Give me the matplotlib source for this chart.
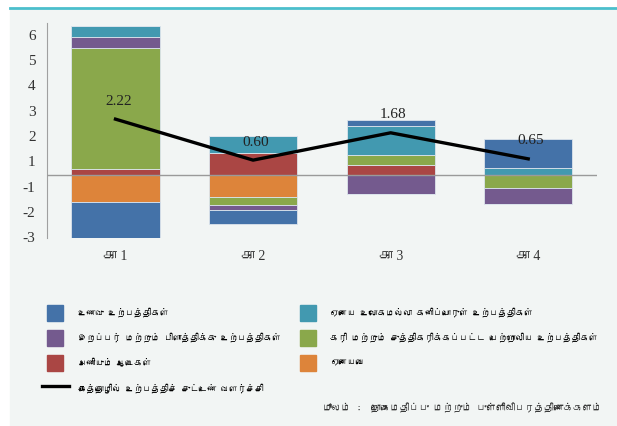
import matplotlib
matplotlib.use("Agg")
import matplotlib.pyplot as plt
from matplotlib import font_manager
from matplotlib.patches import Rectangle, Patch
from matplotlib.lines import Line2D
from matplotlib.legend_handler import HandlerPatch
import numpy as np

# ---------------- data ----------------
categories = ['கா 1', 'கா 2', 'கா 3', 'கா 4']
food = [-1.42, -0.53, 0.24, 1.13]              # blue
other_minerals = [0.42, 0.68, 1.15, 0.29]      # teal
rubber = [0.43, -0.19, -0.74, -0.66]           # purple
coal_petroleum = [4.79, -0.34, 0.38, -0.49]    # green
apparel = [0.25, 0.87, 0.42, 0.0]              # red
others = [-1.07, -0.85, 0.0, 0.0]              # orange
growth = [2.22, 0.60, 1.68, 0.65]
growth_labels = ['2.22', '0.60', '1.68', '0.65']
ytick_labels = ['6', '5', '4', '3', '2', '1', '-1', '-2', '-3']
ytick_pos = [5.55, 4.55, 3.55, 2.55, 1.55, 0.55, -0.45, -1.45, -2.45]

names = {
    'food': 'உணவு உற்பத்திகள்',
    'minerals': 'ஏனைய உலோகமல்லா கனிப்பொருள் உற்பத்திகள்',
    'rubber': 'இறப்பர் மற்றும் பிளாத்திக்கு உற்பத்திகள்',
    'coal': 'கரி மற்றும் சுத்திகரிக்கப்பட்ட பெற்றோலிய உற்பத்திகள்',
    'apparel': 'அணியும் ஆடைகள்',
    'others': 'ஏனையவை',
    'line': 'கைத்தொழில் உற்பத்திச் சுட்டெண் வளர்ச்சி',
}
source_label = 'மூலம்'
source_text = ' :  தொகைமதிப்பு மற்றும் புள்ளிவிபரத்திணைக்களம்'

# ---------------- fonts ----------------
def find_font(ch):
    from matplotlib.ft2font import FT2Font
    for f in font_manager.fontManager.ttflist:
        try:
            if ord(ch) in FT2Font(f.fname).get_charmap():
                return f.name
        except Exception:
            pass
    return None

tamil = find_font('க')
sans = ([tamil] if tamil else []) + ['DejaVu Sans']
serif = ['Liberation Serif'] + ([tamil] if tamil else []) + ['DejaVu Sans']

colors = {
    'food': '#4472a8', 'minerals': '#4299b0', 'rubber': '#745a8e',
    'coal': '#8aa84b', 'apparel': '#aa4644', 'others': '#dd843a',
}

fig = plt.figure(figsize=(6.17, 4.26), dpi=100)
fig.patch.set_facecolor('white')
W, H = 617, 426
fig.patches.append(Rectangle((10 / W, 0), 1 - 10 / W, (H - 9) / H,
                             transform=fig.transFigure, color='#f2f5f4', zorder=-5))
fig.lines.append(Line2D([10 / W, 1], [1 - 8 / H, 1 - 8 / H], transform=fig.transFigure,
                        color='#4bbfcc', lw=2, zorder=-4))

renderer = fig.canvas.get_renderer()


def fit_size(text, family, target_px, base=10.0, lo=5.0, hi=9.0):
    t = fig.text(0, 0, text, fontsize=base, family=family)
    w = t.get_window_extent(renderer).width
    t.remove()
    return max(lo, min(hi, base * target_px / max(w, 1)))


ax = fig.add_axes([46.7 / W, 1 - 238.3 / H, (597 - 46.7) / W, (238.3 - 23) / H])
ax.set_facecolor('none')
ax.set_zorder(2)

x = np.arange(len(categories))
series = [('apparel', apparel), ('others', others), ('coal', coal_petroleum),
          ('rubber', rubber), ('minerals', other_minerals), ('food', food)]
pos_base = np.zeros(len(x))
neg_base = np.zeros(len(x))
for key, vals in series:
    v = np.array(vals, dtype=float)
    pv = np.where(v > 0, v, 0)
    nv = np.where(v < 0, v, 0)
    ax.bar(x, pv, 0.64, bottom=pos_base, color=colors[key], edgecolor='#dce4ec', linewidth=0.6, zorder=2)
    ax.bar(x, nv, 0.64, bottom=neg_base, color=colors[key], edgecolor='#dce4ec', linewidth=0.6, zorder=2)
    pos_base += pv
    neg_base += nv

ax.axhline(0, color='#9a9a9a', lw=1, zorder=3)
ax.plot(x, growth, color='black', lw=2.4, zorder=4)
for xi, g, lab in zip(x, growth, growth_labels):
    ax.annotate(lab, (xi, g), xytext=(2, 13), textcoords='offset points',
                ha='center', va='center', fontsize=11, family=serif, color='#222222', zorder=5)

ax.set_xlim(-0.5, 3.5)
ax.set_ylim(-2.49, 6.02)
ax.set_yticks(ytick_pos)
ax.set_yticklabels(ytick_labels, family=serif, fontsize=11, color='#333333')
ax.tick_params(axis='y', length=0, pad=8)
ax.set_xticks([])
for xi, c in zip(x, categories):
    ax.text(xi, -2.49 - 0.72, c, ha='center', va='center', fontsize=10, family=serif, color='#333333')
for s in ['top', 'right', 'bottom']:
    ax.spines[s].set_visible(False)
ax.spines['left'].set_color('#a0a0a0')

# target widths (px) of each legend label as in the reference
targets = {'food': 100, 'rubber': 201, 'apparel': 94, 'line': 212,
           'minerals': 246, 'coal': 269, 'others': 53}
sizes = {k: fit_size(names[k], sans, targets[k]) for k in targets}
leg_size = float(np.median(list(sizes.values())))
leg_size = min(leg_size, sizes['coal'], sizes['rubber'] * 1.05)
em = leg_size * 100 / 72  # pixels per em
h_em = (16 / em - 0.245) / 0.65
box_px = 16.0
lab_sp = max(0.05, (25.3 - box_px) / em)


def square_patch(legend, orig_handle, xdescent, ydescent, width, height, fontsize):
    s = height
    return Rectangle((-xdescent + (width - s) / 2, -ydescent), s, s)


col1 = [Patch(color=colors['food'], label=names['food']),
        Patch(color=colors['rubber'], label=names['rubber']),
        Patch(color=colors['apparel'], label=names['apparel']),
        Line2D([], [], color='black', lw=2.4, label=names['line'])]
col2 = [Patch(color=colors['minerals'], label=names['minerals']),
        Patch(color=colors['coal'], label=names['coal']),
        Patch(color=colors['others'], label=names['others'])]
hmap = {Patch: HandlerPatch(patch_func=square_patch)}
common = dict(loc='upper left', frameon=False, prop={'family': sans, 'size': leg_size},
              handlelength=27 / em, handleheight=h_em, labelspacing=lab_sp,
              handletextpad=9 / em, borderaxespad=0, borderpad=0, handler_map=hmap)
top_px = 312.5 - box_px / 2
leg1 = fig.legend(handles=col1, bbox_to_anchor=(42 / W, 1 - top_px / H), **common)
leg2 = fig.legend(handles=col2, bbox_to_anchor=(294.5 / W, 1 - top_px / H), **common)

src_size = fit_size(source_label + source_text, sans, 279)
t1 = fig.text(323 / W, 1 - 408 / H, source_label, ha='left', va='center', fontsize=src_size, family=sans,
              style='italic', color='#333333')
bb = t1.get_window_extent(renderer)
fig.text(bb.x1 / W, 1 - 408 / H, source_text, ha='left', va='center', fontsize=src_size, family=sans,
         color='#333333')

fig.savefig('out.png', dpi=100, facecolor=fig.get_facecolor())
